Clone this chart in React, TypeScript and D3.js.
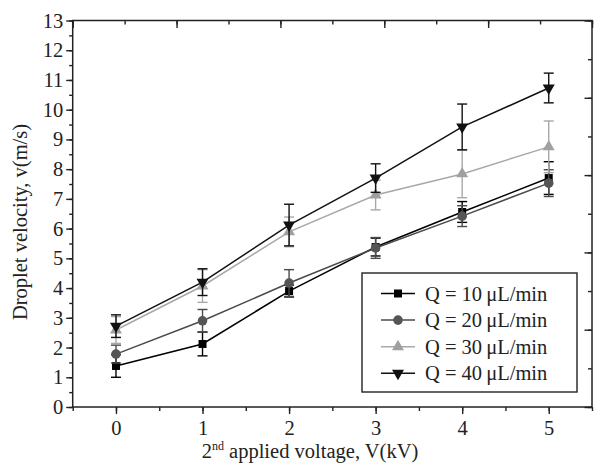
import * as d3 from "d3";
import React, { useEffect, useRef } from "react";

// Applied voltage steps (kV)
const voltages = [0, 1, 2, 3, 4, 5];

// Droplet velocity (m/s) for each flow rate
const velQ10 = [1.38, 2.12, 3.9, 5.38, 6.56, 7.7];
const velQ20 = [1.78, 2.9, 4.17, 5.35, 6.42, 7.53];
const velQ30 = [2.59, 4.07, 5.89, 7.13, 7.84, 8.75];
const velQ40 = [2.72, 4.2, 6.12, 7.7, 9.42, 10.73];

// Error bar half widths (m/s)
const errQ10 = [0.38, 0.4, 0.2, 0.3, 0.35, 0.55];
const errQ20 = [0.3, 0.38, 0.45, 0.35, 0.35, 0.45];
const errQ30 = [0.45, 0.55, 0.5, 0.5, 0.8, 0.87];
const errQ40 = [0.38, 0.45, 0.7, 0.48, 0.77, 0.5];

const seriesLabels = ["Q = 10\u2009\u03bcL/min", "Q = 20\u2009\u03bcL/min", "Q = 30\u2009\u03bcL/min", "Q = 40\u2009\u03bcL/min"];

const yTicks = d3.range(0, 14);
const xTicks = [0, 1, 2, 3, 4, 5];

const App = () => {
  const ref = useRef<SVGSVGElement>(null);

  useEffect(() => {
    const width = 598;
    const height = 474;
    const margin = { top: 20.5, right: 6, bottom: 67, left: 72.7 };
    const innerW = width - margin.left - margin.right;
    const innerH = height - margin.top - margin.bottom;
    const font = "'Liberation Serif', 'Times New Roman', serif";
    const fontSize = 20.5;

    const svg = d3.select(ref.current);
    svg.selectAll("*").remove();

    const g = svg.append("g").attr("transform", `translate(${margin.left},${margin.top})`);

    // Scales
    const xScale = d3.scaleLinear().domain([-0.5, 5.5]).range([0, innerW]);
    const yScale = d3.scaleLinear().domain([0, 13]).range([innerH, 0]);
    // top/right axes carry their own unlabelled 0..5 scale
    const topScale = d3.scaleLinear().domain([0, 5]).range([0, innerW]);
    const rightScale = d3.scaleLinear().domain([0, 5]).range([innerH, 0]);

    const axisColor = "#222";

    // Bottom axis: major at integers, minor at halves
    g.append("g")
      .attr("transform", `translate(0,${innerH})`)
      .call(d3.axisBottom(xScale).tickValues(d3.range(-0.5, 5.51, 0.5)).tickSize(4).tickFormat(() => ""))
      .call((a) => a.select(".domain").remove());
    g.append("g")
      .attr("class", "x-axis")
      .attr("transform", `translate(0,${innerH})`)
      .call(d3.axisBottom(xScale).tickValues(xTicks).tickSize(7).tickPadding(6).tickFormat(d3.format("d")))
      .call((a) => a.select(".domain").remove());

    // Left axis
    g.append("g")
      .call(d3.axisLeft(yScale).tickValues(d3.range(0, 13.01, 0.5)).tickSize(3.5).tickFormat(() => ""))
      .call((a) => a.select(".domain").remove());
    g.append("g")
      .attr("class", "y-axis")
      .call(d3.axisLeft(yScale).tickValues(yTicks).tickSize(6.5).tickPadding(3).tickFormat(d3.format("d")))
      .call((a) => a.select(".domain").remove());

    // Top axis, ticks pointing inward
    g.append("g")
      .call(d3.axisBottom(topScale).tickValues(d3.range(0, 5.01, 0.5)).tickSize(4).tickFormat(() => ""))
      .call((a) => a.select(".domain").remove());
    g.append("g")
      .call(d3.axisBottom(topScale).tickValues(d3.range(0, 6)).tickSize(7.5).tickFormat(() => ""))
      .call((a) => a.select(".domain").remove());

    // Right axis, ticks pointing inward
    g.append("g")
      .attr("transform", `translate(${innerW},0)`)
      .call(d3.axisLeft(rightScale).tickValues(d3.range(0, 5.01, 0.5)).tickSize(4).tickFormat(() => ""))
      .call((a) => a.select(".domain").remove());
    g.append("g")
      .attr("transform", `translate(${innerW},0)`)
      .call(d3.axisLeft(rightScale).tickValues(d3.range(0, 6)).tickSize(7.5).tickFormat(() => ""))
      .call((a) => a.select(".domain").remove());

    g.selectAll(".tick line").attr("stroke", axisColor).attr("stroke-width", 1.4);
    g.selectAll(".tick text")
      .style("font-family", font)
      .style("font-size", `${fontSize}px`)
      .attr("fill", "#222");

    // Frame
    g.append("rect")
      .attr("width", innerW)
      .attr("height", innerH)
      .attr("fill", "none")
      .attr("stroke", axisColor)
      .attr("stroke-width", 1.5);

    const series = [
      { label: seriesLabels[0], values: velQ10, errors: errQ10, color: "#000", markerColor: "#000", symbol: d3.symbolSquare, size: 64, rotate: 0 },
      { label: seriesLabels[1], values: velQ20, errors: errQ20, color: "#4a4a4a", markerColor: "#555", symbol: d3.symbolCircle, size: 72, rotate: 0 },
      { label: seriesLabels[2], values: velQ30, errors: errQ30, color: "#a8a8a8", markerColor: "#a0a0a0", symbol: d3.symbolTriangle, size: 62, rotate: 0 },
      { label: seriesLabels[3], values: velQ40, errors: errQ40, color: "#111", markerColor: "#111", symbol: d3.symbolTriangle, size: 62, rotate: 180 },
    ];

    const line = d3
      .line<number>()
      .x((d, i) => xScale(voltages[i]))
      .y((d) => yScale(d));

    const capHalf = 5;

    series.forEach((s) => {
      const sg = g.append("g");

      // Error bars
      s.values.forEach((v, i) => {
        const x = xScale(voltages[i]);
        const y0 = yScale(v - s.errors[i]);
        const y1 = yScale(v + s.errors[i]);
        const eg = sg.append("g").attr("stroke", s.color).attr("stroke-width", 1.4);
        eg.append("line").attr("x1", x).attr("x2", x).attr("y1", y0).attr("y2", y1);
        eg.append("line").attr("x1", x - capHalf).attr("x2", x + capHalf).attr("y1", y0).attr("y2", y0);
        eg.append("line").attr("x1", x - capHalf).attr("x2", x + capHalf).attr("y1", y1).attr("y2", y1);
      });

      sg.append("path")
        .datum(s.values)
        .attr("d", line)
        .attr("fill", "none")
        .attr("stroke", s.color)
        .attr("stroke-width", 1.5);

      const sym = d3.symbol().type(s.symbol).size(s.size);
      sg.selectAll(".marker")
        .data(s.values)
        .enter()
        .append("path")
        .attr("d", sym)
        .attr("transform", (d, i) => `translate(${xScale(voltages[i])},${yScale(d)}) rotate(${s.rotate})`)
        .attr("fill", s.markerColor);
    });

    // Legend
    const legend = g.append("g").attr("transform", `translate(${362 - margin.left},${273 - margin.top})`);
    legend
      .append("rect")
      .attr("width", 215)
      .attr("height", 119)
      .attr("fill", "#fff")
      .attr("stroke", axisColor)
      .attr("stroke-width", 1.4);

    series.forEach((s, i) => {
      const ly = 20.5 + i * 26.6;
      const row = legend.append("g").attr("transform", `translate(0,${ly})`);
      row.append("line").attr("x1", 19).attr("x2", 53).attr("y1", 0).attr("y2", 0).attr("stroke", s.color).attr("stroke-width", 1.5);
      row.append("path")
        .attr("d", d3.symbol().type(s.symbol).size(s.size)())
        .attr("transform", `translate(36,0) rotate(${s.rotate})`)
        .attr("fill", s.markerColor);
      row.append("text")
        .attr("x", 63)
        .attr("y", 7)
        .style("font-family", font)
        .style("font-size", `${fontSize}px`)
        .attr("fill", "#222")
        .text(s.label);
    });

    // X-axis label
    const xl = svg
      .append("text")
      .attr("x", 310)
      .attr("y", 458)
      .style("font-family", font)
      .style("font-size", `${fontSize}px`)
      .style("text-anchor", "middle")
      .attr("fill", "#222");
    xl.append("tspan").text("2");
    xl.append("tspan").attr("dy", -8).style("font-size", "12px").text("nd");
    xl.append("tspan").attr("dy", 8).text(" applied voltage, V(kV)");

    // Y-axis label
    svg
      .append("text")
      .attr("transform", `translate(27,${222}) rotate(-90)`)
      .style("font-family", font)
      .style("font-size", `${fontSize}px`)
      .style("text-anchor", "middle")
      .attr("fill", "#222")
      .text("Droplet velocity, v(m/s)");
  }, []);

  return (
    <svg
      ref={ref}
      width={598}
      height={474}
      style={{ position: "absolute", left: 0, top: 0, background: "#fff" }}
    />
  );
};

export default App;
